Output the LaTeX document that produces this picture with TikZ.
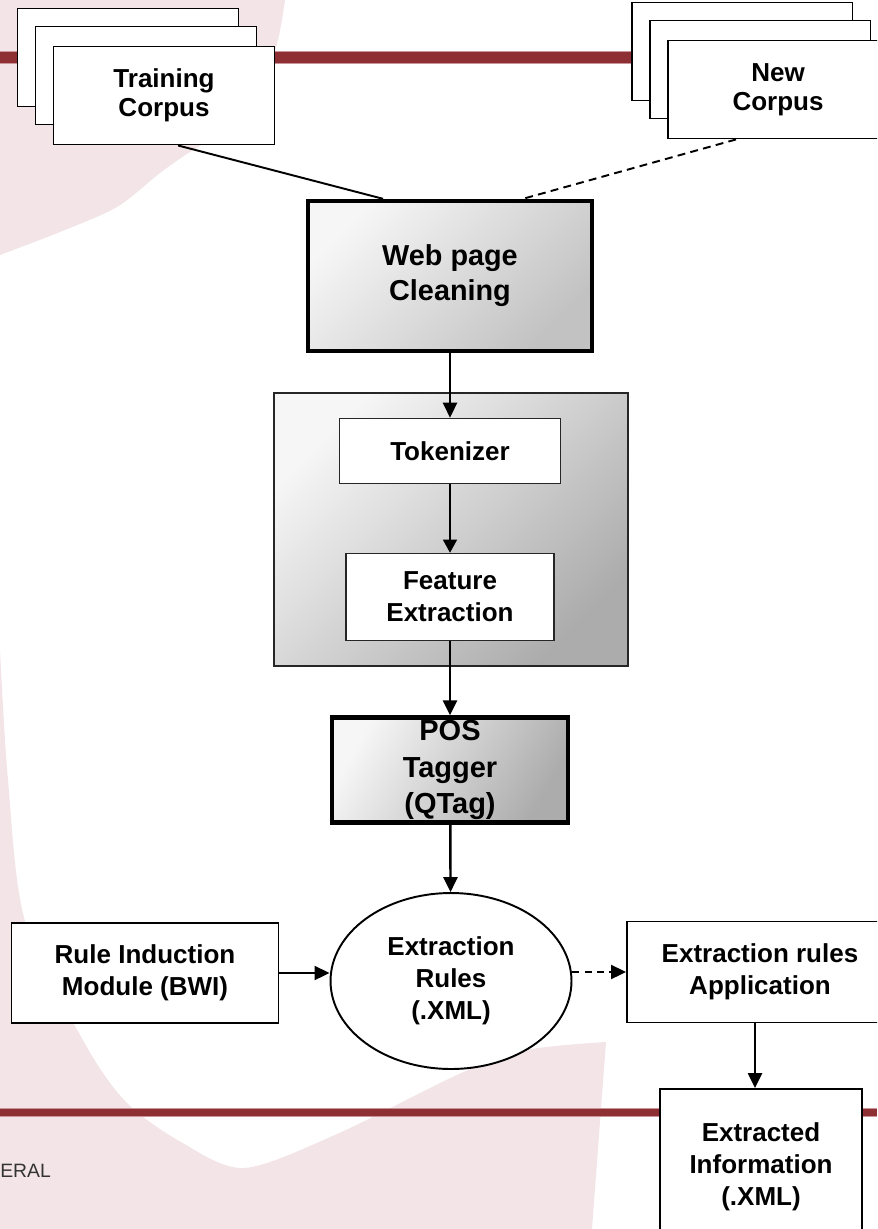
\documentclass[tikz,border=0pt]{standalone}
\usepackage{fontspec}
\setmainfont{Liberation Sans}
\usetikzlibrary{positioning,shapes.geometric,arrows.meta}

\definecolor{ink}       {HTML}{000000}
\definecolor{blush}     {HTML}{F3E5E7}
\definecolor{maroon}    {HTML}{8E2F34}
\definecolor{maroonedge}{HTML}{C9959A}
\definecolor{greylight} {HTML}{F6F6F6}
\definecolor{greydark}  {HTML}{ACACAC}
\definecolor{greymid}   {HTML}{C2C2C2}
\definecolor{footgrey}  {HTML}{333333}

\tikzset{
  every node/.style={font=\bfseries\fontsize{14.8}{18.1}\selectfont},
  % --- nodes
  box/.style    = {draw=ink, fill=white, align=center, inner sep=0pt, line width=1.1pt},
  sheet/.style  = {box, minimum width=4.42cm, minimum height=1.96cm,
                   font=\bfseries\fontsize{14.8}{16.4}\selectfont},
  inbox/.style  = {box, draw=ink!85, line width=0.9pt},
  heavy/.style  = {draw=ink, line width=2.5pt, align=center, inner sep=0pt,
                   top color=greylight, bottom color=greymid, shading angle=45},
  stagebox/.style = {draw=ink!85, line width=1.1pt, inner sep=0pt,
                   top color=greylight, bottom color=greydark, shading angle=45},
  store/.style  = {box, ellipse},
  foot/.style   = {font=\fontsize{11}{13}\selectfont, text=footgrey, inner sep=0pt},
  % --- edges
  link/.style   = {draw=ink, line width=1.1pt},
  band/.style   = {draw=maroon, line width=6pt},
}

\begin{document}
\begin{tikzpicture}[x=0.02cm, y=-0.02cm,
  e/.style={-{Triangle[length=0.3cm,width=0.28cm]}, draw=ink, line width=1.4pt},
  ethin/.style={-{Triangle[length=0.26cm,width=0.28cm]}, draw=ink, line width=0.7pt},
  ed/.style={e, line width=1.1pt, dash pattern=on 4pt off 3pt},
]
  \useasboundingbox (0,0) rectangle (877,1229);
  \clip (0,0) rectangle (877,1229);

  % slide background
  \fill[blush] (0,0) -- plot[smooth] coordinates {(285,0) (278,40) (262,90) (235,125)
      (193,150) (160,173) (117,207) (60,232) (0,255)} -- cycle;
  \fill[blush] plot[smooth] coordinates {(0,650) (8,780) (25,921) (84,1042) (126,1102)
      (181,1142) (244,1168) (337,1134) (459,1074) (526,1050) (606,1042)}
      -- (592,1229) -- (0,1229) -- cycle;
  \draw[band, draw=maroonedge, line width=7.4pt] (0,57.5) -- (877,57.5);
  \draw[band] (0,57.5) -- (877,57.5);
  \draw[band, draw=maroonedge, line width=5.2pt] (0,1112.5) -- (877,1112.5);
  \draw[band, line width=4pt] (0,1112.5) -- (877,1112.5);
  \node[foot, anchor=base west] (footer) at (0,1177.6) {ERAL};

  % processing stage
  \node[stagebox, minimum width=7.08cm, minimum height=5.46cm] (stage) at (451,529.5) {};

  \node[sheet] (train1) at (128,57.5) {};
  \node[sheet] (train2) at (146,75.5) {};
  \node[sheet] (train3) at (164,95.5) {Training\\Corpus};
  \node[sheet] (new1) at (742,51.5) {};
  \node[sheet] (new2) at (760,69.5) {};
  \node[sheet] (new3) at (778,89.5) {New\\Corpus};

  \node[heavy, minimum width=5.68cm, minimum height=3.0cm,
        font=\bfseries\fontsize{16.4}{19.8}\selectfont] (web) at (450,276) {Web page\\Cleaning};
  \node[inbox, minimum width=4.42cm, minimum height=1.3cm] (tok) at (450,451) {Tokenizer};
  \node[inbox, minimum width=4.16cm, minimum height=1.74cm] (feat) at (450,597) {Feature\\Extraction};
  \node[heavy, bottom color=greydark, shading angle=60, minimum width=4.72cm, minimum height=2.1cm,
        font=\bfseries\fontsize{16.5}{20.8}\selectfont] (pos) at (450,770) {POS\\Tagger\\(QTag)};

  \node[store, minimum width=4.82cm, minimum height=3.52cm] (rules) at (451,981) {Extraction\\Rules\\(.XML)};
  \node[box, minimum width=5.34cm, minimum height=2.0cm] (induct) at (145,973) {Rule Induction\\Module (BWI)};
  \node[box, minimum width=5.32cm, minimum height=2.02cm] (apply) at (760,972) {Extraction rules\\Application};
  \node[box, minimum width=4.04cm, minimum height=3.12cm] (extract) at (761,1167) {Extracted\\Information\\(.XML)};

  \draw[link] ([xshift=0.28cm]train3.south) -- ([xshift=-1.34cm]web.north);
  \draw[link, dash pattern=on 4.5pt off 3pt] ([xshift=-0.84cm]new3.south) -- ([xshift=1.46cm]web.north);
  \draw[e] (web) -- (tok);
  \draw[ethin] (tok) -- (feat);
  \draw[e] (feat) -- (pos);
  \draw[e] (pos) -- (rules);
  \draw[e, line width=1.1pt] (induct.east) -- (induct.east -| rules.west);
  \draw[ed] (apply.west -| rules.east) -- (apply.west);
  \draw[e] ([xshift=-1mm]apply.south) -- ([xshift=-1mm]apply.south |- extract.north);
\end{tikzpicture}
\end{document}
